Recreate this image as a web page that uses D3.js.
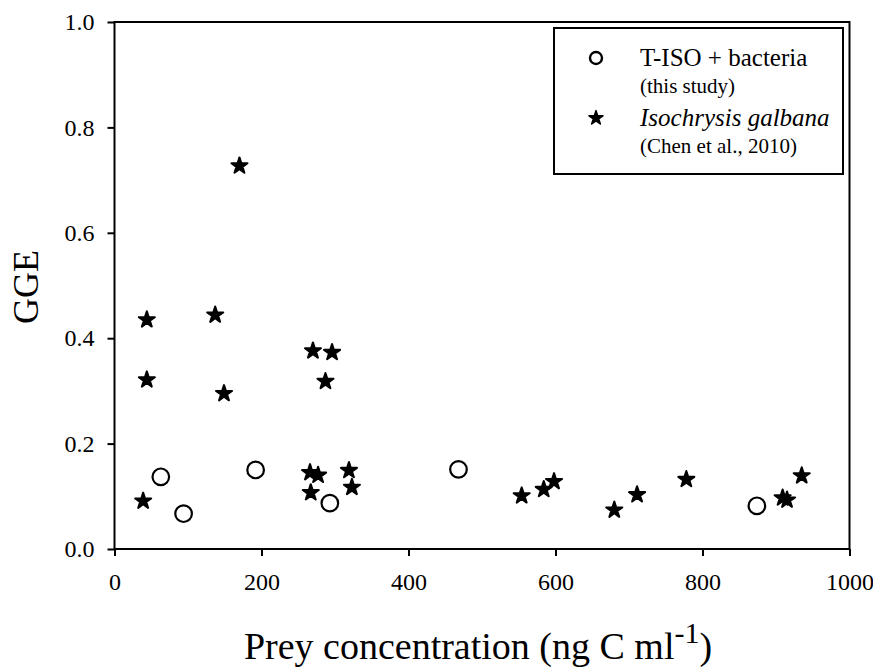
<!DOCTYPE html>
<html>
<head>
<meta charset="utf-8">
<script src="https://cdn.jsdelivr.net/npm/d3@7"></script>
<style>
  html, body { margin: 0; padding: 0; background: #fff; }
  svg { display: block; font-family: "Liberation Serif", "Times New Roman", serif; }
</style>
</head>
<body>
<div id="container"></div>
<script>
const width = 873, height = 669;

// --- Data ---
// T-ISO + bacteria (this study)
const tisoPrey = [63, 94, 192, 293, 468, 874];
const tisoGGE  = [0.137, 0.067, 0.150, 0.087, 0.151, 0.082];

// Isochrysis galbana (Chen et al., 2010)
const isoPrey = [39, 44, 44, 137, 149, 170, 266, 267, 270, 277, 287, 296, 319, 323,
                 554, 584, 598, 680, 711, 778, 909, 915, 935];
const isoGGE  = [0.091, 0.435, 0.321, 0.444, 0.295, 0.727, 0.145, 0.107, 0.376, 0.140, 0.318, 0.373, 0.149, 0.117,
                 0.101, 0.113, 0.128, 0.074, 0.103, 0.132, 0.097, 0.093, 0.139];

const xTicks = [0, 200, 400, 600, 800, 1000];
const yTicks = [0.0, 0.2, 0.4, 0.6, 0.8, 1.0];

// --- Layout ---
const plot = { left: 114.5, right: 849.5, top: 22, bottom: 549 };

const x = d3.scaleLinear().domain([0, 1000]).range([plot.left, plot.right]);
const y = d3.scaleLinear().domain([0, 1]).range([plot.bottom, plot.top]);

const svg = d3.select("#container").append("svg")
  .attr("width", width).attr("height", height);

svg.append("rect").attr("width", width).attr("height", height).attr("fill", "#fff");

// Axes (outward ticks on left and bottom)
const xAx = svg.append("g").attr("transform", `translate(0,${plot.bottom})`)
  .call(d3.axisBottom(x).tickValues(xTicks).tickFormat(d3.format("d"))
    .tickSize(7).tickSizeOuter(0).tickPadding(17));
const yAx = svg.append("g").attr("transform", `translate(${plot.left},0)`)
  .call(d3.axisLeft(y).tickValues(yTicks).tickFormat(d3.format(".1f"))
    .tickSize(7).tickSizeOuter(0).tickPadding(13));
for (const ax of [xAx, yAx]) {
  ax.select(".domain").remove();
  ax.selectAll(".tick line").attr("stroke", "#000").attr("stroke-width", 2);
  ax.selectAll("text").attr("fill", "#000")
    .style("font-family", "'Liberation Serif', serif").style("font-size", "24px");
}

// Plot frame
svg.append("rect")
  .attr("x", plot.left).attr("y", plot.top)
  .attr("width", plot.right - plot.left).attr("height", plot.bottom - plot.top)
  .attr("fill", "none").attr("stroke", "#000").attr("stroke-width", 2);

// Points
const star = d3.symbol().type(d3.symbolStar).size(80);
svg.append("g").selectAll("path")
  .data(d3.zip(isoPrey, isoGGE))
  .join("path")
  .attr("d", star)
  .attr("transform", d => `translate(${x(d[0])},${y(d[1])})`)
  .attr("fill", "#000").attr("stroke", "#000")
  .attr("stroke-width", 2).attr("stroke-linejoin", "round");

svg.append("g").selectAll("circle")
  .data(d3.zip(tisoPrey, tisoGGE))
  .join("circle")
  .attr("cx", d => x(d[0])).attr("cy", d => y(d[1]))
  .attr("r", 8.3)
  .attr("fill", "#fff").attr("stroke", "#000").attr("stroke-width", 2.2);

// Legend
const lg = svg.append("g");
lg.append("rect")
  .attr("x", 554).attr("y", 28).attr("width", 289).attr("height", 146)
  .attr("fill", "#fff").attr("stroke", "#000").attr("stroke-width", 2);
lg.append("circle").attr("cx", 596).attr("cy", 58).attr("r", 6)
  .attr("fill", "#fff").attr("stroke", "#000").attr("stroke-width", 2.4);
lg.append("path").attr("d", d3.symbol().type(d3.symbolStar).size(60))
  .attr("transform", "translate(596,118)").attr("fill", "#000")
  .attr("stroke", "#000").attr("stroke-width", 1.6).attr("stroke-linejoin", "round");
lg.append("text").attr("x", 640).attr("y", 66).style("font-size", "25px").text("T-ISO + bacteria");
lg.append("text").attr("x", 640).attr("y", 93).style("font-size", "21px").text("(this study)");
lg.append("text").attr("x", 640).attr("y", 126).style("font-size", "25px").style("font-style", "italic")
  .text("Isochrysis galbana");
lg.append("text").attr("x", 640).attr("y", 153).style("font-size", "21px").text("(Chen et al., 2010)");

// Axis titles
svg.append("text")
  .attr("transform", `translate(38,287) rotate(-90)`)
  .attr("text-anchor", "middle").style("font-size", "36px").text("GGE");

const xt = svg.append("text")
  .attr("x", 478).attr("y", 659)
  .attr("text-anchor", "middle").style("font-size", "38px");
xt.append("tspan").text("Prey concentration (ng C ml");
xt.append("tspan").attr("dy", -16).style("font-size", "30px").text("-1");
xt.append("tspan").attr("dy", 16).text(")");
</script>
</body>
</html>
